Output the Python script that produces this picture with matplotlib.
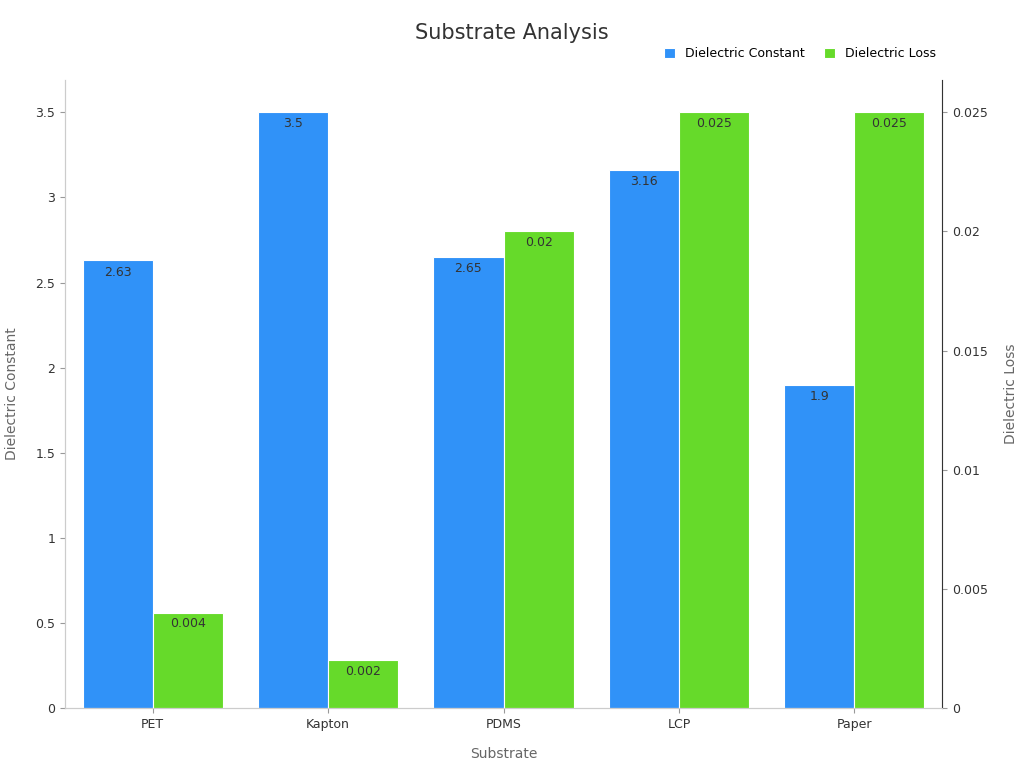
import matplotlib.pyplot as plt
import numpy as np

substrates = ["PET", "Kapton", "PDMS", "LCP", "Paper"]
dielectric_constant = [2.63, 3.5, 2.65, 3.16, 1.9]
dielectric_loss = [0.004, 0.002, 0.02, 0.025, 0.025]

blue = "#3092f8"
green = "#66da2a"

fig = plt.figure(figsize=(10.24, 7.68), dpi=100)
ax = fig.add_axes([65/1024, 60/768, 877/1024, 628/768])
ax2 = ax.twinx()

x = np.arange(len(substrates))
w = 0.4
b1 = ax.bar(x - w/2, dielectric_constant, w, color=blue, edgecolor="white", linewidth=0.8, label="Dielectric Constant")
b2 = ax2.bar(x + w/2, dielectric_loss, w, color=green, edgecolor="white", linewidth=0.8, label="Dielectric Loss")

top = 3.69
ax.set_ylim(0, top)
ax2.set_ylim(0, top * 0.025 / 3.5)
ax.set_xlim(-0.5, 4.5)

for rect, v in zip(b1, dielectric_constant):
    ax.text(rect.get_x() + rect.get_width()/2, v - 0.03, f"{v:g}", ha="center", va="top", fontsize=9, color="#333333")
for rect, v in zip(b2, dielectric_loss):
    ax2.text(rect.get_x() + rect.get_width()/2, v - 0.0002, f"{v:g}", ha="center", va="top", fontsize=9, color="#333333")

ax.set_xticks(x)
ax.set_xticklabels(substrates)
ax.set_yticks([0, 0.5, 1, 1.5, 2, 2.5, 3, 3.5])
ax.set_yticklabels(["0", "0.5", "1", "1.5", "2", "2.5", "3", "3.5"])
ax2.set_yticks([0, 0.005, 0.01, 0.015, 0.02, 0.025])
ax2.set_yticklabels(["0", "0.005", "0.01", "0.015", "0.02", "0.025"])

for a in (ax, ax2):
    a.spines["top"].set_visible(False)
    for s in ("left", "right", "bottom"):
        a.spines[s].set_color("#cccccc")
    a.tick_params(colors="#333333", labelsize=9)
    a.tick_params(axis="both", color="#999999")
ax2.spines["right"].set_color("#333333")

ax.set_xlabel("Substrate", fontsize=10, color="#666666", labelpad=12)
ax.set_ylabel("Dielectric Constant", fontsize=10, color="#666666", labelpad=12)
ax2.set_ylabel("Dielectric Loss", fontsize=10, color="#666666", labelpad=12)

fig.text(0.5, 0.957, "Substrate Analysis", ha="center", va="center", fontsize=15, color="#333333")
fig.legend(handles=[b1, b2], loc="center right", bbox_to_anchor=(0.925, 0.93), ncol=2,
           frameon=False, fontsize=9, handlelength=0.9, handleheight=0.9, columnspacing=1.5)

fig.savefig("out.png", dpi=100)
